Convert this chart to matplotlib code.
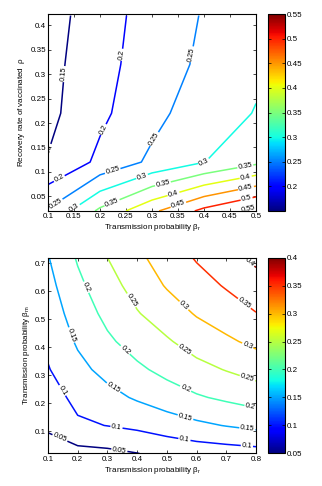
import matplotlib

matplotlib.use("Agg")
import matplotlib.pyplot as plt
import numpy as np
from matplotlib.colors import Normalize
from matplotlib.cm import ScalarMappable
from matplotlib.ticker import FormatStrFormatter

plt.rcParams["font.family"] = ["Liberation Sans", "DejaVu Sans"]
plt.rcParams["mathtext.fontset"] = "custom"
plt.rcParams["mathtext.rm"] = "Liberation Sans"
plt.rcParams["mathtext.it"] = "Liberation Sans"

# --- top panel: final size vs beta_r (x) and recovery rate rho (y) ---
beta_r_top = [0.1, 0.2, 0.3, 0.4, 0.5]
rho = [0.02, 0.12, 0.22, 0.32, 0.42]
z_top = [
    [0.255, 0.360, 0.440, 0.513, 0.565],
    [0.153, 0.211, 0.260, 0.299, 0.339],
    [0.137, 0.190, 0.235, 0.278, 0.302],
    [0.135, 0.181, 0.2285, 0.258, 0.292],
    [0.130, 0.176, 0.223, 0.253, 0.280],
]
levels_top = [0.15, 0.2, 0.25, 0.3, 0.35, 0.4, 0.45, 0.5, 0.55]
cbar_top = (0.15, 0.55)
cbar_ticks_top = [0.2, 0.25, 0.3, 0.35, 0.4, 0.45, 0.5, 0.55]

# --- bottom panel: beta_r (x) vs beta_m (y) ---
beta_r_bot = [0.1, 0.2, 0.3, 0.4, 0.5, 0.6, 0.7, 0.8]
beta_m = [0.02, 0.12, 0.22, 0.32, 0.42, 0.52, 0.62, 0.72]
z_bot = [
    [0.030, 0.034, 0.0386, 0.049, 0.062, 0.070, 0.075, 0.080],
    [0.057, 0.092, 0.101, 0.1107, 0.1247, 0.140, 0.152, 0.163],
    [0.0765, 0.114, 0.135, 0.1557, 0.176, 0.1947, 0.2084, 0.2216],
    [0.097, 0.1365, 0.165, 0.191, 0.214, 0.235, 0.2524, 0.2696],
    [0.1105, 0.156, 0.1917, 0.2202, 0.2445, 0.271, 0.2918, 0.3112],
    [0.123, 0.1725, 0.2128, 0.2468, 0.275, 0.304, 0.3242, 0.3485],
    [0.135, 0.1888, 0.2314, 0.2687, 0.304, 0.3295, 0.3545, 0.3798],
    [0.1475, 0.2049, 0.250, 0.290, 0.322, 0.3545, 0.3824, 0.411],
]
levels_bot = [0.05, 0.1, 0.15, 0.2, 0.25, 0.3, 0.35, 0.4]
cbar_bot = (0.05, 0.4)
cbar_ticks_bot = [0.05, 0.1, 0.15, 0.2, 0.25, 0.3, 0.35, 0.4]

# where MATLAB put the inline labels (approx.)
label_pos_top = [
    (0.133, 0.30), (0.105, 0.14),
    (0.24, 0.34), (0.2, 0.19), (0.125, 0.08),
    (0.38, 0.34), (0.3, 0.17), (0.225, 0.10), (0.115, 0.035),
    (0.40, 0.122), (0.28, 0.093), (0.15, 0.028),
    (0.48, 0.108), (0.32, 0.08), (0.22, 0.045),
    (0.48, 0.09), (0.34, 0.06),
    (0.48, 0.07), (0.35, 0.035),
    (0.48, 0.054),
    (0.485, 0.027),
]
label_pos_bot = [
    (0.14, 0.075), (0.34, 0.03),
    (0.14, 0.24), (0.33, 0.11), (0.56, 0.075), (0.77, 0.055),
    (0.17, 0.44), (0.32, 0.255), (0.56, 0.14), (0.77, 0.10),
    (0.22, 0.61), (0.36, 0.39), (0.56, 0.245), (0.78, 0.18),
    (0.37, 0.56), (0.56, 0.39), (0.77, 0.285),
    (0.55, 0.54), (0.77, 0.40),
    (0.76, 0.555),
    (0.78, 0.705),
]

FS = 5.8


def draw_panel(fig, rect, crect, x, y, z, levels, crange, cticks, label_pos,
               xlim, ylim, xticks, yticks, xlabel, ylabel):
    ax = fig.add_axes(rect)
    norm = Normalize(*crange)
    cs = ax.contour(x, y, np.array(z), levels=levels, cmap="jet", norm=norm,
                    linewidths=1.1)
    ax.clabel(cs, manual=label_pos, inline=True, fontsize=5.3, fmt="%g",
              colors="black", inline_spacing=1)
    ax.set_xlim(*xlim)
    ax.set_ylim(*ylim)
    ax.set_xticks(xticks)
    ax.set_yticks(yticks)
    ax.xaxis.set_major_formatter(FormatStrFormatter("%g"))
    ax.yaxis.set_major_formatter(FormatStrFormatter("%g"))
    ax.tick_params(direction="in", length=2.5, width=0.5, labelsize=FS,
                   top=True, right=True, pad=1.5)
    for s in ax.spines.values():
        s.set_linewidth(0.8)
    ax.set_xlabel(xlabel, fontsize=FS, labelpad=1.5)
    ax.set_ylabel(ylabel, fontsize=FS, labelpad=2)

    cax = fig.add_axes(crect)
    cb = fig.colorbar(ScalarMappable(norm=norm, cmap="jet"), cax=cax,
                      ticks=cticks)
    cb.ax.yaxis.set_major_formatter(FormatStrFormatter("%g"))
    cb.ax.tick_params(direction="in", length=2, width=0.5, labelsize=FS,
                      left=True, right=True, pad=1.5)
    cb.outline.set_linewidth(0.8)
    return ax


fig = plt.figure(figsize=(3.22, 4.86), dpi=100)

draw_panel(
    fig, [0.149, 0.566, 0.646, 0.405], [0.832, 0.566, 0.053, 0.405],
    beta_r_top, rho, z_top, levels_top, cbar_top, cbar_ticks_top,
    label_pos_top,
    (0.1, 0.5), (0.02, 0.423),
    np.arange(0.1, 0.501, 0.05), np.arange(0.05, 0.401, 0.05),
    r"Transmission probability $\beta_r$",
    r"Recovery rate of vaccinated  $\rho$",
)

draw_panel(
    fig, [0.149, 0.067, 0.646, 0.403], [0.832, 0.067, 0.053, 0.403],
    beta_r_bot, beta_m, z_bot, levels_bot, cbar_bot, cbar_ticks_bot,
    label_pos_bot,
    (0.1, 0.8), (0.02, 0.72),
    np.arange(0.1, 0.801, 0.1), np.arange(0.1, 0.701, 0.1),
    r"Transmission probability $\beta_r$",
    r"Transmission probability $\beta_m$",
)

fig.savefig("out.png", dpi=100)
